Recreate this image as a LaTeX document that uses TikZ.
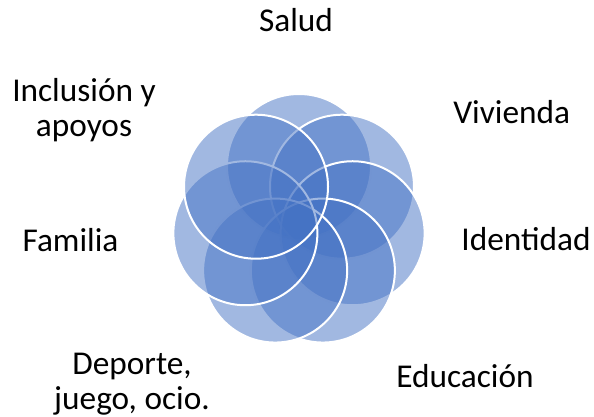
\documentclass[tikz,border=0pt]{standalone}
\usepackage{fontspec}
\setmainfont{Carlito}
\definecolor{venn}{HTML}{4472C4}
\tikzset{
  petal/.style={fill=venn, fill opacity=0.5, draw=white, draw opacity=1, line width=2pt},
  lbl/.style={anchor=base, inner sep=0pt, align=center, font=\fontsize{33.3}{35}\selectfont, text=black}
}
\begin{document}
\begin{tikzpicture}[x=1pt,y=-1pt]
\useasboundingbox (0,0) rectangle (594,417);
\def\cx{299}\def\cy{221}\def\dd{55}\def\rr{72}
\foreach \a/\n in {90/salud,38.571/vivienda,-12.857/identidad,-64.286/educacion,-115.714/deporte,-167.143/familia,141.429/inclusion}{
  \path[petal] ({\cx+\dd*cos(\a)},{\cy-\dd*sin(\a)}) circle[radius=\rr];
  \coordinate (c-\n) at ({\cx+\dd*cos(\a)},{\cy-\dd*sin(\a)});
}
\node[lbl] (salud) at (296,31.7) {Salud};
\node[lbl] (vivienda) at (511.7,123.3) {Vivienda};
\node[lbl] (identidad) at (526,250.7) {Identidad};
\node[lbl] (educacion) at (465,387.3) {Educación};
\node[lbl] (deporte) at (132,409) {Deporte,\\juego, ocio.};
\node[lbl] (familia) at (70.5,251.7) {Familia};
\node[lbl] (inclusion) at (84,136.7) {Inclusión y\\apoyos};
\end{tikzpicture}
\end{document}
